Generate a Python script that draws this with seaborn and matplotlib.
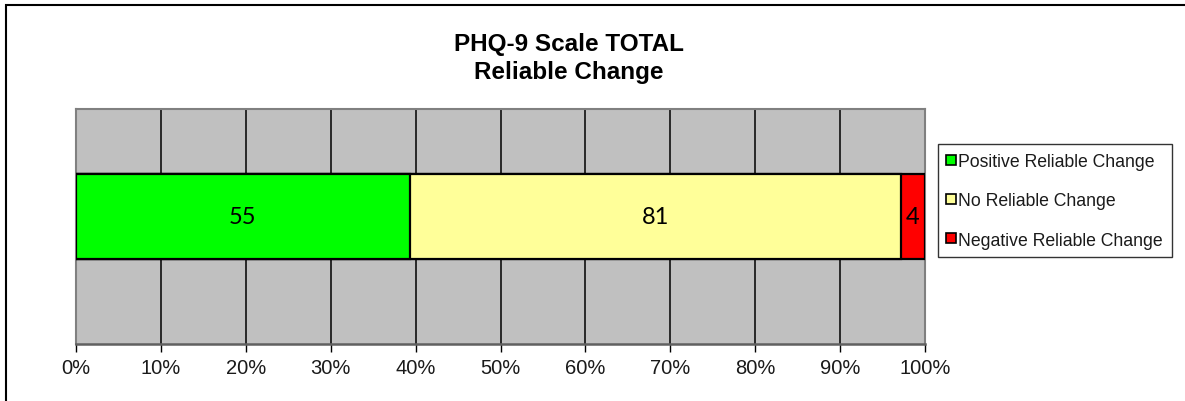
import matplotlib
matplotlib.use("Agg")
import matplotlib.pyplot as plt
import seaborn as sns
import numpy as np
import pandas as pd
from matplotlib.lines import Line2D
from matplotlib.patches import Rectangle

categories = ["Positive Reliable Change", "No Reliable Change", "Negative Reliable Change"]
counts = [55, 81, 4]
colors = ["#00FF00", "#FFFF99", "#FF0000"]
xticks = [0, 10, 20, 30, 40, 50, 60, 70, 80, 90, 100]
xtick_labels = [f"{t}%" for t in xticks]
title_lines = ["PHQ-9 Scale TOTAL", "Reliable Change"]

sns.set_theme(style="white")
plt.rcParams["font.family"] = ["Liberation Sans", "DejaVu Sans"]
plt.rcParams["text.color"] = "black"

total = sum(counts)
pct = [c / total * 100 for c in counts]
cum = np.cumsum(pct)
starts = cum - np.array(pct)

fig = plt.figure(figsize=(11.85, 4.02), dpi=100)
ax = fig.add_axes([76/1185, 1-345/402, (925-76)/1185, (345-110)/402])
ax.set_facecolor("#C0C0C0")

row = ["PHQ-9"]
for i in reversed(range(len(categories))):
    df = pd.DataFrame({"pct": [cum[i]], "row": row})
    sns.barplot(data=df, x="pct", y="row", orient="h", color=colors[i],
                saturation=1, width=1.0, edgecolor="black", linewidth=1.6,
                ax=ax, zorder=3)

for i, c in enumerate(counts):
    ax.text(starts[i] + pct[i] / 2, 0, str(c), ha="center", va="center",
            fontsize=17, family=["Lato", "DejaVu Sans"], color="black", zorder=5)

ax.set_xlim(0, 100)
ax.set_ylim(1.5, -1.265)
ax.set_xticks(xticks)
ax.set_xticklabels(xtick_labels, fontsize=14.5, color="#1a1a1a")
ax.set_yticks([])
ax.set_xlabel("")
ax.set_ylabel("")
for x in xticks[1:-1]:
    ax.axvline(x, color="black", lw=1.1, zorder=1)
ax.tick_params(axis="x", direction="out", length=6, width=1, color="black",
               bottom=True, pad=4)
for side in ["left", "top", "right"]:
    ax.spines[side].set_color("#808080")
    ax.spines[side].set_linewidth(1.5)
ax.spines["bottom"].set_color("#606060")
ax.spines["bottom"].set_linewidth(1.8)

fig.text(569/1185, 1-44/402, title_lines[0], ha="center", va="center",
         fontsize=17.5, fontweight="bold", color="black")
fig.text(569/1185, 1-72/402, title_lines[1], ha="center", va="center",
         fontsize=17.5, fontweight="bold", color="black")

handles = [Line2D([0], [0], marker="s", linestyle="", markersize=7.5,
                  markerfacecolor=colors[i], markeredgecolor="black",
                  markeredgewidth=1.2) for i in range(len(categories))]
leg = fig.legend(handles, categories, loc="upper left",
                 bbox_to_anchor=(938/1185, 1-145/402), frameon=True,
                 fontsize=12.7, handlelength=0.5, handletextpad=0.15,
                 labelspacing=1.27, borderpad=0.5, borderaxespad=0,
                 fancybox=False)
leg.get_frame().set_edgecolor("black")
leg.get_frame().set_linewidth(1.0)
for t in leg.get_texts():
    t.set_color("#1a1a1a")

fig.patches.append(Rectangle((6/1185, -0.05), 1.1, 1-6/402+0.05,
                             transform=fig.transFigure, fill=False,
                             edgecolor="black", lw=1.5))

fig.savefig("out.png", dpi=100)
